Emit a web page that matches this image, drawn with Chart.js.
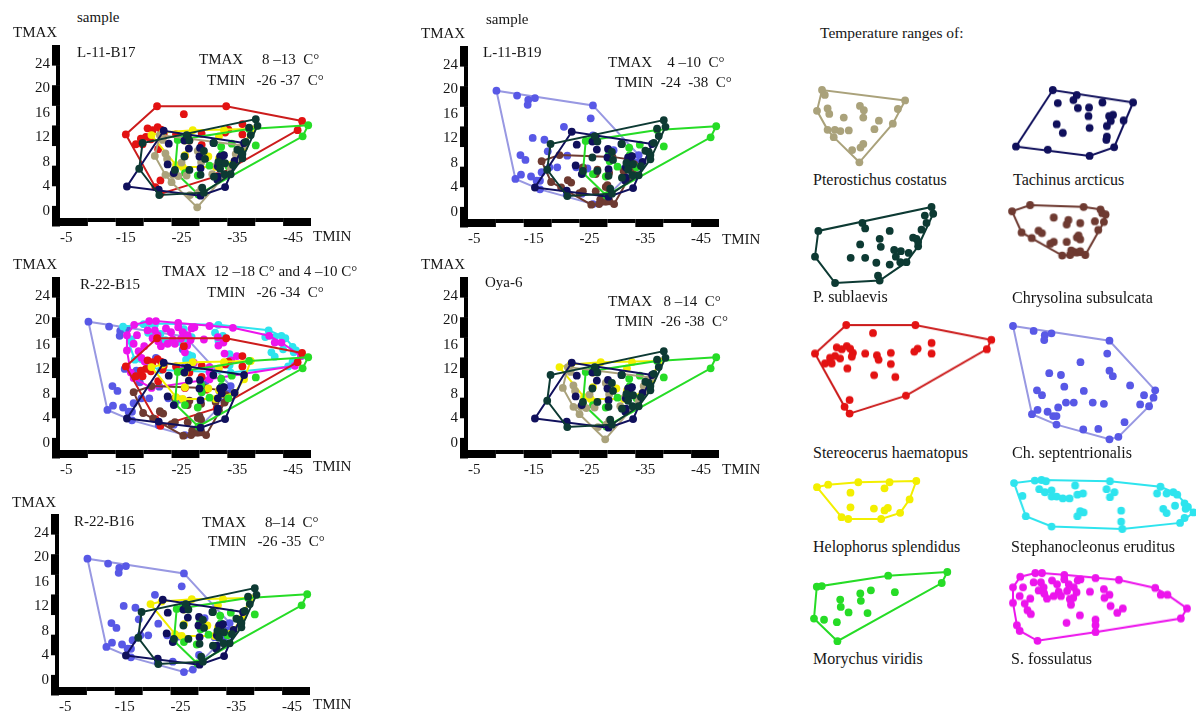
<!DOCTYPE html>
<html lang="en">
<head>
<meta charset="UTF-8" />
<title>Temperature ranges of beetle species</title>
<script src="https://cdn.jsdelivr.net/npm/chart.js@4.4.0/dist/chart.umd.min.js"></script>
<style>
  body { margin: 0; background: #fff; }
  #page {
    position: relative; width: 1196px; height: 715px; overflow: hidden;
    font-family: "Liberation Serif", "Times New Roman", serif; color: #161616;
  }
  .box { position: absolute; }
  .txt { position: absolute; white-space: pre; line-height: 1; }
</style>
</head>
<body>
<div id="page"></div>
<script>
// axis ticks
const tminTicks = [-5, -15, -25, -35, -45];
const tmaxTicks = [0, 4, 8, 12, 16, 20, 24];

// [TMIN, TMAX] per species
const pterostichusCostatus = [
  [-22.9, 12.4], [-23.4, 11.6], [-22.0, 9.0], [-23.9, 9.4], [-24.2, 8.5], [-26.8, 7.9],
  [-29.7, 9.8], [-30.4, 9.1], [-30.3, 7.9], [-33.1, 7.4], [-36.5, 9.3], [-37.8, 10.7],
  [-35.6, 6.9], [-32.3, 6.0], [-23.9, 5.9], [-25.2, 5.9], [-26.2, 5.7], [-27.7, 5.8],
  [-25.0, 4.7], [-28.3, 2.6], [-29.8, 3.0], [-30.3, 3.6], [-29.6, 0.6]
];
const tachinusArcticus = [
  [-23.6, 13.1], [-27.9, 12.3], [-27.3, 11.5], [-38.0, 11.1], [-24.5, 11.0], [-32.5, 11.1],
  [-28.1, 10.2], [-30.1, 10.3], [-30.0, 8.9], [-33.7, 8.9], [-34.4, 9.1], [-34.0, 8.1],
  [-36.3, 8.2], [-33.3, 7.3], [-24.3, 7.6], [-30.2, 7.0], [-25.4, 6.2], [-33.3, 5.6],
  [-33.2, 5.1], [-34.6, 3.9], [-30.2, 2.5], [-22.7, 3.5], [-17.0, 4.0]
];
const pSublaevis = [
  [-19.8, 11.1], [-27.7, 12.4], [-28.2, 11.5], [-32.6, 11.1], [-30.8, 9.8], [-36.8, 10.0],
  [-37.4, 9.8], [-40.1, 15.0], [-40.4, 13.9], [-38.9, 13.6], [-39.2, 12.4], [-38.3, 11.3],
  [-19.2, 6.9], [-27.3, 8.9], [-31.0, 8.5], [-25.6, 6.7], [-28.2, 6.7], [-30.2, 5.9],
  [-32.6, 5.6], [-33.4, 8.0], [-34.6, 7.8], [-33.7, 6.9], [-36.0, 7.5], [-35.6, 6.0],
  [-34.5, 6.0], [-37.7, 8.6], [-37.7, 9.3], [-30.5, 3.8], [-30.8, 3.0], [-22.8, 2.6]
];
const chrysolinaSubsulcata = [
  [-18.2, 8.3], [-21.4, 9.3], [-30.9, 9.0], [-33.9, 8.6], [-34.2, 8.0], [-34.8, 7.8],
  [-34.5, 6.6], [-33.5, 5.3], [-32.9, 6.7], [-25.6, 7.3], [-28.2, 6.9], [-27.9, 6.2],
  [-30.3, 6.4], [-22.9, 5.2], [-23.5, 4.8], [-19.9, 4.9], [-21.7, 4.0], [-25.6, 3.4],
  [-25.0, 3.1], [-27.9, 3.4], [-29.7, 4.1], [-30.3, 3.8], [-30.0, 4.4], [-28.7, 2.0],
  [-29.1, 1.8], [-29.7, 1.7], [-30.3, 1.9], [-27.1, 1.2], [-28.5, 1.3], [-31.2, 1.3]
];
const stereocerusHaematopus = [
  [-16.8, 12.5], [-22.4, 17.1], [-34.8, 17.1], [-48.4, 14.7], [-47.6, 13.2], [-33.1, 5.7],
  [-23.0, 2.8], [-22.1, 3.9], [-27.2, 15.8], [-20.7, 13.5], [-21.6, 13.2], [-22.5, 13.7],
  [-23.1, 13.3], [-23.6, 12.6], [-23.4, 12.0], [-20.4, 12.1], [-19.5, 11.8], [-21.3, 11.7],
  [-18.6, 10.9], [-19.8, 10.9], [-22.6, 10.1], [-25.8, 12.5], [-27.9, 12.2], [-28.2, 11.5],
  [-30.4, 12.6], [-30.4, 10.8], [-27.4, 9.0], [-31.2, 8.7], [-34.6, 12.8], [-35.2, 13.3],
  [-37.7, 14.2], [-37.7, 12.5], [-23.0, 5.0]
];
const chSeptentrionalis = [
  [-10.1, 19.8], [-13.8, 19.0], [-15.8, 18.3], [-17.0, 18.6], [-15.7, 17.5], [-27.4, 17.4],
  [-27.0, 15.3], [-22.2, 13.9], [-27.4, 12.5], [-28.0, 11.6], [-16.6, 12.1], [-18.7, 11.8],
  [-31.1, 10.1], [-19.3, 9.9], [-14.4, 9.3], [-15.3, 8.5], [-22.8, 9.2], [-35.6, 9.3],
  [-33.6, 8.5], [-35.3, 8.1], [-32.9, 7.0], [-34.5, 6.7], [-19.6, 7.3], [-21.0, 7.3],
  [-24.4, 7.3], [-26.4, 7.1], [-13.5, 5.4], [-14.5, 6.1], [-16.3, 5.8], [-18.2, 6.5],
  [-17.3, 5.1], [-17.9, 5.1], [-17.9, 3.7], [-30.1, 4.1], [-22.7, 2.9], [-25.4, 3.0],
  [-27.4, 1.3], [-29.0, 1.7]
];
const helophorusSplendidus = [
  [-21.4, 12.4], [-23.4, 12.8], [-28.8, 13.2], [-34.4, 13.2], [-39.2, 13.4], [-33.5, 12.2],
  [-27.4, 11.5], [-38.0, 10.4], [-27.4, 9.1], [-31.6, 8.9], [-33.5, 8.6], [-34.1, 9.0],
  [-36.3, 8.2], [-25.8, 7.5], [-27.0, 7.2], [-32.9, 7.2]
];
const stephanocleonusEruditus = [
  [-16.3, 19.0], [-17.8, 16.9], [-18.4, 13.6], [-20.0, 19.4], [-21.2, 19.5], [-22.0, 19.3],
  [-20.8, 18.0], [-21.8, 17.5], [-23.0, 17.8], [-23.0, 16.8], [-23.9, 16.8], [-25.0, 16.5],
  [-26.2, 16.5], [-27.2, 18.6], [-27.6, 17.1], [-28.6, 17.3], [-33.4, 19.3], [-32.8, 18.0],
  [-34.2, 17.5], [-33.4, 16.7], [-28.1, 14.4], [-28.7, 14.2], [-27.6, 13.6], [-35.4, 14.5],
  [-35.4, 12.7], [-35.6, 11.5], [-23.0, 11.9], [-42.4, 18.4], [-41.8, 17.3], [-43.5, 17.3],
  [-44.7, 17.5], [-45.4, 17.1], [-42.9, 14.8], [-43.5, 14.1], [-45.0, 15.3], [-46.7, 15.7],
  [-47.3, 15.1], [-48.3, 14.2], [-46.9, 14.8], [-46.7, 13.3], [-45.9, 12.5]
];
const morychusViridis = [
  [-26.1, 11.6], [-27.0, 11.7], [-38.9, 13.4], [-49.5, 14.0], [-48.5, 12.2], [-25.6, 6.4],
  [-27.4, 6.2], [-29.8, 2.7], [-29.7, 5.8], [-30.3, 9.5], [-30.4, 8.3], [-31.8, 7.4],
  [-33.9, 10.5], [-34.0, 9.3], [-35.8, 11.0], [-35.2, 7.3], [-40.1, 10.7]
];
const sFossulatus = [
  [-17.0, 17.6], [-18.3, 19.3], [-21.0, 19.9], [-22.2, 19.9], [-26.2, 19.6], [-29.1, 18.9],
  [-31.8, 19.1], [-36.0, 18.8], [-42.5, 17.5], [-43.5, 16.4], [-44.7, 16.4], [-48.2, 14.2],
  [-47.1, 12.6], [-31.8, 10.4], [-31.8, 11.5], [-31.8, 12.4], [-21.4, 9.0], [-18.2, 10.6],
  [-17.7, 11.5], [-17.0, 15.1], [-18.8, 17.6], [-18.2, 16.2], [-19.1, 15.0], [-19.6, 13.9],
  [-20.2, 13.3], [-20.1, 15.8], [-20.7, 18.4], [-22.0, 18.4], [-22.5, 17.6], [-21.6, 17.1],
  [-22.6, 16.6], [-23.1, 15.8], [-24.0, 18.7], [-24.9, 18.1], [-25.2, 16.9], [-24.3, 16.2],
  [-25.6, 16.2], [-26.2, 18.9], [-27.0, 18.1], [-26.7, 17.0], [-27.9, 17.6], [-28.4, 16.8],
  [-28.6, 18.7], [-27.2, 15.7], [-27.8, 15.9], [-27.4, 14.8], [-30.8, 16.9], [-33.3, 17.3],
  [-33.4, 15.9], [-34.3, 16.4], [-34.5, 14.6], [-35.7, 13.5], [-36.7, 14.2], [-29.0, 13.1],
  [-26.6, 11.9]
];

const species = {
  costatus:    { label: 'Pterostichus costatus',    pts: pterostichusCostatus,    dot: '#aaa27b', edge: '#aaa27b' },
  tachinus:    { label: 'Tachinus arcticus',        pts: tachinusArcticus,        dot: '#10105c', edge: '#10105c' },
  sublaevis:   { label: 'P. sublaevis',             pts: pSublaevis,              dot: '#0d3a33', edge: '#0d3a33' },
  chrysolina:  { label: 'Chrysolina subsulcata',    pts: chrysolinaSubsulcata,    dot: '#6e3a31', edge: '#6e3a31' },
  stereocerus: { label: 'Stereocerus haematopus',   pts: stereocerusHaematopus,   dot: '#e31212', edge: '#cc1c1c' },
  septentr:    { label: 'Ch. septentrionalis',      pts: chSeptentrionalis,       dot: '#5858e6', edge: '#9898e2' },
  helophorus:  { label: 'Helophorus splendidus',    pts: helophorusSplendidus,    dot: '#f3ef00', edge: '#f3ef00' },
  stephano:    { label: 'Stephanocleonus eruditus', pts: stephanocleonusEruditus, dot: '#2ee4ee', edge: '#2ee4ee' },
  morychus:    { label: 'Morychus viridis',         pts: morychusViridis,         dot: '#26dc26', edge: '#26dc26' },
  fossulatus:  { label: 'S. fossulatus',            pts: sFossulatus,             dot: '#ec14ec', edge: '#ec14ec' }
};

// the five samples (plot area left/top in px, species from bottom to top)
const plots = [
  { left: 60,  top: 45,  keys: ['stereocerus', 'helophorus', 'morychus', 'costatus', 'tachinus', 'sublaevis'] },
  { left: 468, top: 46,  keys: ['septentr', 'chrysolina', 'morychus', 'tachinus', 'sublaevis'] },
  { left: 60,  top: 277, keys: ['septentr', 'stephano', 'fossulatus', 'stereocerus', 'chrysolina', 'helophorus', 'morychus', 'tachinus'] },
  { left: 468, top: 277, keys: ['helophorus', 'morychus', 'costatus', 'tachinus', 'sublaevis'] },
  { left: 59,  top: 514, keys: ['septentr', 'helophorus', 'morychus', 'tachinus', 'sublaevis'] }
];

const legendIcons = [
  { key: 'costatus',    left: 817,  top: 90,  tx: 813,  ty: 172 },
  { key: 'tachinus',    left: 1016, top: 90,  tx: 1013, ty: 172 },
  { key: 'sublaevis',   left: 815,  top: 207, tx: 813,  ty: 289 },
  { key: 'chrysolina',  left: 1012, top: 205, tx: 1012, ty: 290 },
  { key: 'stereocerus', left: 815,  top: 325, tx: 813,  ty: 445 },
  { key: 'septentr',    left: 1013, top: 326, tx: 1012, ty: 445 },
  { key: 'helophorus',  left: 817,  top: 481, tx: 813,  ty: 539 },
  { key: 'stephano',    left: 1014, top: 480, tx: 1011, ty: 539 },
  { key: 'morychus',    left: 814,  top: 572, tx: 813,  ty: 651 },
  { key: 'fossulatus',  left: 1013, top: 573, tx: 1011, ty: 651 }
];

const texts = [
  ['sample', 77, 10, 15], ['TMAX', 13, 25, 15], ['L-11-B17', 77, 45, 15],
  ['TMAX     8 –13  C°', 199, 52, 15], ['TMIN   -26 -37  C°', 207, 73, 15], ['TMIN', 313, 229, 15],
  ['sample', 486, 12, 15], ['TMAX', 421, 26, 15], ['L-11-B19', 483, 45, 15],
  ['TMAX    4 –10  C°', 608, 55, 15], ['TMIN  -24  -38  C°', 615, 75, 15], ['TMIN', 722, 232, 15],
  ['TMAX', 13, 257, 15], ['R-22-B15', 80, 277, 15],
  ['TMAX  12 –18 C° and 4 –10 C°', 162, 264, 15], ['TMIN   -26 -34  C°', 207, 285, 15], ['TMIN', 313, 459, 15],
  ['TMAX', 421, 257, 15], ['Oya-6', 485, 275, 15],
  ['TMAX   8 –14  C°', 608, 294, 15], ['TMIN  -26 -38  C°', 615, 314, 15], ['TMIN', 722, 462, 15],
  ['TMAX', 12, 495, 15], ['R-22-B16', 74, 514, 15],
  ['TMAX     8–14  C°', 202, 515, 15], ['TMIN   -26 -35  C°', 208, 534, 15], ['TMIN', 313, 697, 15],
  ['Temperature ranges of:', 820, 25, 15.5]
];

const PX_X = 251 / 45;     // px per degree of TMIN
const PX_Y = 173 / 28.24;  // px per degree of TMAX
const page = document.getElementById('page');

Chart.defaults.font.family = '"Liberation Serif", "Times New Roman", serif';
Chart.defaults.font.size = 15;
Chart.defaults.color = '#161616';

function addText(str, left, top, size) {
  const d = document.createElement('div');
  d.className = 'txt';
  d.textContent = str;
  d.style.left = left + 'px';
  d.style.top = top + 'px';
  d.style.fontSize = size + 'px';
  page.appendChild(d);
}

function addCanvas(left, top, w, h) {
  const d = document.createElement('div');
  d.className = 'box';
  d.style.left = left + 'px';
  d.style.top = top + 'px';
  d.style.width = w + 'px';
  d.style.height = h + 'px';
  const c = document.createElement('canvas');
  d.appendChild(c);
  page.appendChild(d);
  return c;
}

// monotone chain, closed
function convexHull(pts) {
  const p = pts.map(([x, y]) => ({ x, y })).sort((a, b) => a.x - b.x || a.y - b.y);
  const cross = (o, a, b) => (a.x - o.x) * (b.y - o.y) - (a.y - o.y) * (b.x - o.x);
  const lower = [], upper = [];
  for (const q of p) {
    while (lower.length >= 2 && cross(lower[lower.length - 2], lower[lower.length - 1], q) <= 0) lower.pop();
    lower.push(q);
  }
  for (let i = p.length - 1; i >= 0; i--) {
    const q = p[i];
    while (upper.length >= 2 && cross(upper[upper.length - 2], upper[upper.length - 1], q) <= 0) upper.pop();
    upper.push(q);
  }
  lower.pop(); upper.pop();
  const h = lower.concat(upper);
  h.push(h[0]);
  return h;
}

function speciesSets(keys) {
  const sets = [];
  keys.forEach((k, i) => {
    const s = species[k];
    sets.push({
      data: convexHull(s.pts), showLine: true, borderColor: s.edge, borderWidth: 2,
      tension: 0, pointRadius: 0, fill: false, clip: false, order: -2 * i
    });
    sets.push({
      data: s.pts.map(([x, y]) => ({ x, y })), backgroundColor: s.dot, borderWidth: 0,
      pointRadius: 3.9, clip: false, order: -2 * i - 1
    });
  });
  return sets;
}

// black checkered scale bars along both axes
const rulerPlugin = {
  id: 'ruler',
  afterDraw(chart, args, opts) {
    if (!opts.on) return;
    const { ctx, chartArea: a, scales: { x } } = chart;
    ctx.save();
    ctx.fillStyle = '#000';
    for (let i = 0; i < 9; i++) {
      const p0 = x.getPixelForValue(-5 - 5 * i);
      const p1 = x.getPixelForValue(-10 - 5 * i);
      ctx.fillRect(p0, a.bottom, p1 - p0, i % 2 === 0 ? 8 : 4);
    }
    const yTop = a.top, yBot = a.bottom + 8, seg = (yBot - yTop) / 9;
    for (let i = 0; i < 9; i++) {
      const w = i % 2 === 0 ? 8 : 4;
      ctx.fillRect(a.left - w, yBot - seg * (i + 1), w, seg + 0.5);
    }
    ctx.restore();
  }
};
Chart.register(rulerPlugin);

const common = {
  responsive: true, maintainAspectRatio: false, animation: false, events: [],
  plugins: { legend: { display: false }, tooltip: { enabled: false } }
};

plots.forEach(p => {
  const W = 251, H = 173;
  const cv = addCanvas(p.left - 60, p.top - 20, 60 + W + 10, 20 + H + 30);
  new Chart(cv, {
    type: 'scatter',
    data: { datasets: speciesSets(p.keys) },
    options: {
      ...common,
      layout: { padding: { left: 0, top: 20, right: 10, bottom: 0 } },
      plugins: { ...common.plugins, ruler: { on: true } },
      scales: {
        x: {
          type: 'linear', reverse: true, min: -50, max: -5,
          grid: { display: false, drawTicks: false }, border: { display: false },
          ticks: { align: 'start', padding: 11, autoSkip: false, maxRotation: 0 },
          afterBuildTicks: s => { s.ticks = tminTicks.map(v => ({ value: v })); },
          afterFit: s => { s.height = 30; }
        },
        y: {
          type: 'linear', min: -1.14, max: 27.1,
          grid: { display: false, drawTicks: false }, border: { display: false },
          ticks: { padding: 10, autoSkip: false },
          afterBuildTicks: s => { s.ticks = tmaxTicks.map(v => ({ value: v })); },
          afterFit: s => { s.width = 60; }
        }
      }
    }
  });
});

legendIcons.forEach(icon => {
  const s = species[icon.key];
  const xs = s.pts.map(q => q[0]), ys = s.pts.map(q => q[1]);
  const xmin = Math.min(...xs), xmax = Math.max(...xs);
  const ymin = Math.min(...ys), ymax = Math.max(...ys);
  const pad = 6;
  const w = (xmax - xmin) * PX_X + 2 * pad, h = (ymax - ymin) * PX_Y + 2 * pad;
  const cv = addCanvas(icon.left - pad, icon.top - pad, w, h);
  new Chart(cv, {
    type: 'scatter',
    data: { datasets: speciesSets([icon.key]) },
    options: {
      ...common,
      layout: { padding: pad },
      scales: {
        x: { type: 'linear', reverse: true, min: xmin, max: xmax, display: false },
        y: { type: 'linear', min: ymin, max: ymax, display: false }
      }
    }
  });
  addText(s.label, icon.tx, icon.ty, 16);
});

texts.forEach(t => addText(t[0], t[1], t[2], t[3]));
</script>
</body>
</html>
